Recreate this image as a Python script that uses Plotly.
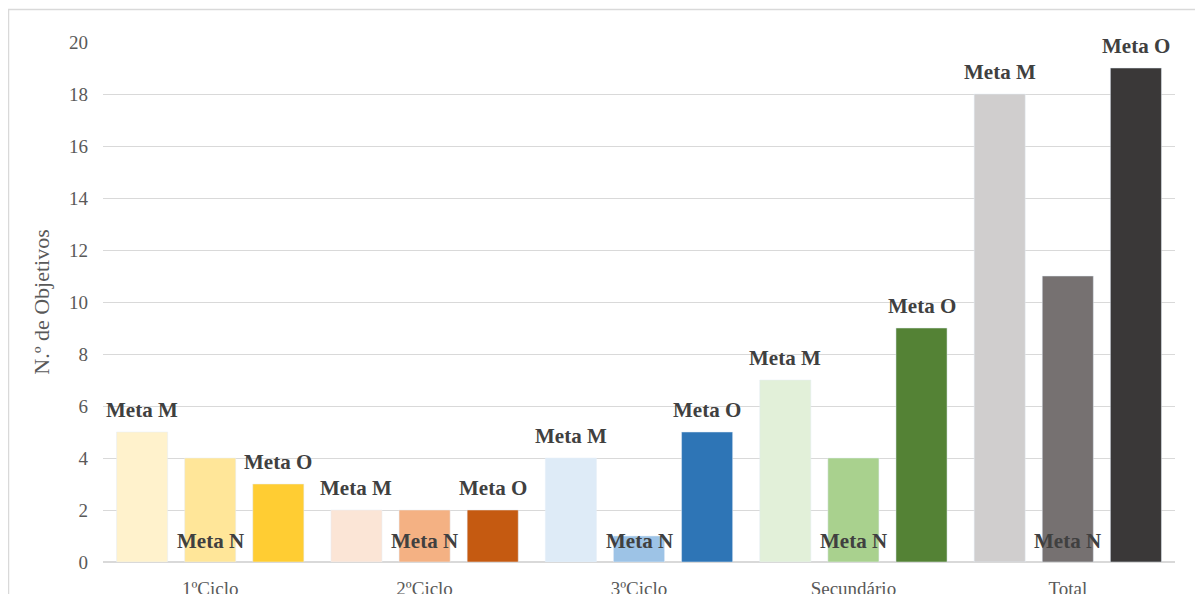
import plotly.graph_objects as go

categories = ["1ºCiclo", "2ºCiclo", "3ºCiclo", "Secundário", "Total"]
meta_m = [5, 2, 4, 7, 18]
meta_n = [4, 2, 1, 4, 11]
meta_o = [3, 2, 5, 9, 19]
colors_m = ["#FFF2CC", "#FBE5D6", "#DEEBF7", "#E2F0D9", "#D0CECE"]
colors_n = ["#FFE699", "#F4B183", "#9DC3E6", "#A9D18E", "#767171"]
colors_o = ["#FFCD33", "#C55A11", "#2E75B6", "#548235", "#3A3838"]
labels = ["Meta M", "Meta N", "Meta O"]

FONT = "Liberation Serif, Times New Roman, serif"
lab_font = dict(family=FONT, size=21, color="#404040", weight="bold")

W, H = 1195, 586
L, R, T, B = 95, 28, 34, 32
PW, PH = W - L - R, H - T - B
BARGAP = 0.047
SLOT = (1 - BARGAP) / 3

fig = go.Figure()
for vals, cols, name in [(meta_m, colors_m, labels[0]), (meta_n, colors_n, labels[1]),
                         (meta_o, colors_o, labels[2])]:
    fig.add_trace(go.Bar(x=categories, y=vals, name=name, marker_color=cols))

# value labels placed through the axis scales
for k, (vals, name) in enumerate([(meta_m, labels[0]), (meta_n, labels[1]), (meta_o, labels[2])]):
    off = (k - 1) * SLOT
    for i, v in enumerate(vals):
        if name == "Meta N":
            y, shift = 0, 21
        else:
            y, shift = v, 22
        fig.add_annotation(x=i + off, y=y, xref="x", yref="y", text=name, showarrow=False,
                           font=lab_font, yanchor="middle", xanchor="center", yshift=shift)

fig.update_layout(
    width=W, height=H,
    margin=dict(l=L, r=R, t=T, b=B, autoexpand=False),
    paper_bgcolor="white", plot_bgcolor="white",
    barmode="group", bargap=BARGAP, bargroupgap=0.25,
    showlegend=False,
    font=dict(family=FONT, color="#595959"),
)
fig.update_yaxes(range=[0, 20], dtick=2, showgrid=True, gridcolor="#D9D9D9", gridwidth=1,
                 zeroline=True, zerolinecolor="#D9D9D9", zerolinewidth=2,
                 showline=False, tickfont=dict(size=19, color="#595959"),
                 ticklabelstandoff=14,
                 title=dict(text="N.º de Objetivos", font=dict(size=22, color="#595959"), standoff=13))
fig.update_xaxes(showline=False, tickfont=dict(size=19, color="#595959"), ticklabelstandoff=13)

# outer chart border
fig.add_shape(type="rect", xref="paper", yref="paper",
              x0=(0.5 - L) / PW, x1=(W + 5 - L) / PW, y0=-0.2, y1=1 + (T - 1.5) / PH,
              line=dict(color="#D9D9D9", width=1.5), fillcolor="rgba(0,0,0,0)", layer="below")

fig.write_html("out.html")
